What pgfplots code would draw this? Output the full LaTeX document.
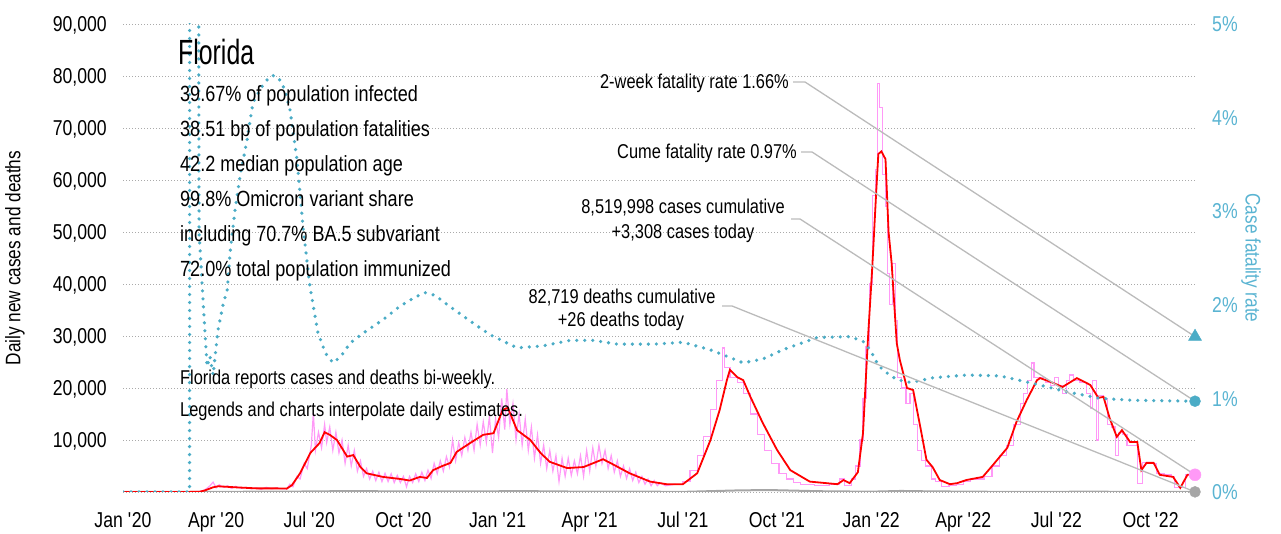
\documentclass[border=0pt]{standalone}
\usepackage{pgfplots}
\pgfplotsset{compat=1.18}
\usepackage{fontspec}
\setmainfont{Liberation Sans}[FakeStretch=0.82]
\newfontfamily\titlefont{Liberation Sans}[FakeStretch=0.71]
\definecolor{cfr}{HTML}{4BACC6}
\definecolor{cfrtxt}{HTML}{5AB4D2}
\definecolor{daily}{HTML}{FF99F7}
\definecolor{dgray}{HTML}{A6A6A6}
\definecolor{lead}{HTML}{BBBBBB}
\definecolor{gridc}{HTML}{AAAAAA}
\pgfplotsset{
  baseaxis/.style={at={(123pt,42pt)}, anchor=south west, width=1072pt, height=468pt,
    scale only axis, xmin=0, xmax=1047.4, axis line style={draw=none}, tick style={draw=none},
    scaled y ticks=false, scaled x ticks=false},
  hideall/.style={xtick=\empty, ytick=\empty, axis lines=none}
}
\begin{document}
\begin{tikzpicture}[x=1pt,y=1pt]
\useasboundingbox (0,0) rectangle (1281,534);
% ---------- cases axis ----------
\begin{axis}[baseaxis, ymin=0, ymax=90000,
  ymajorgrids, major grid style={gridc, line width=0.9pt, dash pattern=on 1pt off 2pt},
  ytick={0,10000,20000,30000,40000,50000,60000,70000,80000,90000},
  yticklabels={,{10,000},{20,000},{30,000},{40,000},{50,000},{60,000},{70,000},{80,000},{90,000}},
  yticklabel style={font=\fontsize{21.5}{24}\selectfont, inner sep=0pt, anchor=base east, xshift=-16pt, yshift=-7.7pt},
  xtick={0,91,182,274,366,456,547,639,731,821,912,1004},
  xticklabels={Jan \textquotesingle20,Apr \textquotesingle20,Jul \textquotesingle20,Oct \textquotesingle20,Jan \textquotesingle21,Apr \textquotesingle21,Jul \textquotesingle21,Oct \textquotesingle21,Jan \textquotesingle22,Apr \textquotesingle22,Jul \textquotesingle22,Oct \textquotesingle22},
  xticklabel style={font=\fontsize{21.5}{24}\selectfont, inner sep=0pt, anchor=base, yshift=-35.5pt},
]
% deaths
\addplot[dgray, line width=2pt] coordinates {
(0,0) (80,10) (120,50) (180,100) (220,180) (260,130) (330,100) (390,170) (450,70) (550,40)
(600,300) (630,380) (680,150) (730,60) (760,200) (790,120) (850,40) (950,50) (1000,40) (1047.4,26)};
% daily cases (noisy period)
\addplot[daily, line width=1.2pt] coordinates {
(0,0) (60,0) (75,100) (80,400) (85,1200) (88,1900) (91,800) (94,1400) (98,900) (102,1200) (106,700)
(110,1100) (115,700) (120,900) (125,600) (130,800) (135,500) (140,900) (145,600) (150,800) (155,600)
(160,600) (163,1500) (166,1000) (170,3000) (173,2500) (177,5500) (180,4500) (184,9000) (186,15200)
(188,8000) (191,11500) (194,8500) (197,13000) (199,9500) (202,12500) (205,8000) (208,11500) (211,7500)
(214,10000) (217,5500) (220,9000) (223,5000) (226,8000) (229,4000) (232,6000) (235,3000) (238,4500)
(241,2500) (244,4000) (247,2200) (250,3800) (253,2000) (256,3600) (259,2000) (262,3500) (265,1800)
(268,3200) (271,1800) (274,3000) (277,1000) (280,3000) (283,1800) (286,3500) (289,2000) (292,3800)
(295,2200) (298,4200) (301,2600) (304,5500) (307,3500) (310,6000) (313,4000) (316,6800) (319,4800)
(322,10000) (325,6000) (328,9500) (331,7000) (334,10500) (337,8000) (340,11500) (343,8000) (346,13000)
(349,9000) (352,13500) (355,9500) (358,14500) (361,7500) (364,14000) (367,10500) (370,18000) (373,12000)
(375,19800) (378,13000) (381,17000) (384,10000) (387,15000) (390,9000) (393,14000) (396,8000) (399,12500)
(402,6500) (405,11000) (408,5500) (411,9000) (414,4500) (417,8000) (420,4000) (423,7000) (426,2000)
(429,6500) (432,3000) (435,6500) (438,3200) (441,6000) (444,3500) (447,7000) (450,3000) (453,8000)
(456,4000) (459,8500) (462,5000) (465,9000) (468,5500) (471,8000) (474,4500) (477,7000) (480,3800)
(483,6000) (486,3000) (489,5000) (492,2600) (495,4500) (498,2200) (501,3800) (504,1800) (507,3000)
(510,1500) (513,2500) (516,1200) (519,2200) (522,1200) (525,1800) (530,1200) (540,1500)};
% daily cases (step period)
\addplot[daily, line width=1.2pt, const plot] coordinates {
(540,1500) (547,2000) (554,4200) (561,7000) (567,10600) (574,15800) (580,21500) (586,27700) (588,24000)
(593,22000) (600,21000) (606,19000) (613,15000) (620,11000) (627,8000) (634,5500) (641,3500) (648,2500)
(655,1800) (662,1500) (676,1300) (690,1500) (700,2500) (705,1300) (712,2500) (716,5000) (720,10000)
(723,18000) (726,28000) (729,40000) (732,57000) (735,62000) (737,78500) (739,74000) (742,61000)
(745,55000) (747,42000) (749,36000) (752,44000) (755,33000) (757,22000) (761,20000) (765,17000)
(769,19000) (772,13000) (776,8000) (780,6000) (784,5000) (790,2500) (794,2000) (800,1000) (807,1200)
(814,1500) (821,2000) (828,2500) (835,2500) (842,3000) (849,5000) (856,7000) (863,9000) (870,13000)
(877,17000) (880,19000) (884,21500) (888,24800) (890,22000) (896,22000) (901,21000) (906,20500)
(910,22000) (914,20500) (918,19000) (922,21500) (925,22500) (929,21500) (935,21000) (941,19000)
(945,16000) (947,21500) (951,10000) (953,18500) (958,18000) (962,13000) (966,12500) (970,7000)
(973,11500) (977,11000) (981,9000) (987,9000) (991,1700) (996,5600) (1002,5700) (1006,5500)
(1010,3500) (1017,3300) (1024,3000) (1027,800) (1033,800) (1038,3300) (1047.4,3300)};
% 7-day average
\addplot[red, line width=1.8pt] coordinates {
(0,0) (60,0) (75,50) (80,300) (88,900) (93,1100) (110,900) (130,700) (150,700) (160,650) (165,1300)
(173,3600) (183,7500) (192,9400) (197,11500) (202,11000) (209,10000) (215,8100) (219,6800) (225,7100)
(232,4800) (238,3600) (254,2900) (271,2500) (280,2200) (290,2900) (297,2700) (303,4200) (312,5000)
(320,5600) (326,7700) (339,9400) (352,11000) (362,11300) (371,15800) (376,16200) (385,11900) (398,10000)
(408,7500) (417,5800) (434,4600) (450,4800) (469,6300) (476,5600) (495,3600) (515,2000) (531,1500)
(547,1500) (561,3600) (574,10000) (583,15800) (590,21500) (593,23500) (600,22100) (606,21500)
(613,18300) (625,13300) (639,8100) (652,4200) (671,2000) (698,1500) (704,2300) (710,1700) (718,3800)
(723,11300) (728,30000) (732,43000) (736,58000) (738,65000) (741,65500) (745,64000) (748,50000)
(751,44000) (756,28600) (759,25400) (766,20000) (772,19600) (779,12500) (785,6200) (791,4800)
(798,2300) (808,1500) (815,1700) (824,2300) (840,2900) (850,5200) (864,8500) (873,13500) (883,17700)
(893,21500) (896,21900) (906,21200) (918,20200) (932,21900) (945,20600) (953,18100) (958,18300)
(964,14200) (971,10600) (976,11900) (984,9600) (991,9600) (995,4200) (1000,5600) (1007,5600)
(1013,3300) (1026,2900) (1033,800) (1040,3300) (1047.4,3308)};
\coordinate (mPink) at (axis cs:1047.4,3308);
\coordinate (mGray) at (axis cs:1047.4,26);
\end{axis}
% ---------- CFR axis ----------
\begin{axis}[baseaxis, ymin=0, ymax=5, xtick=\empty,
  ytick={0,1,2,3,4,5}, yticklabels={0\%,1\%,2\%,3\%,4\%,5\%}, yticklabel pos=right,
  yticklabel style={font=\fontsize{21.5}{24}\selectfont, text=cfrtxt, inner sep=0pt, anchor=base west, xshift=17pt, yshift=-7.7pt},
]
\addplot[cfr, line width=3.6pt, line cap=round, dash pattern=on 0pt off 8pt] coordinates {
(0,0) (65,0) (65.6,20) (72,20) (74.3,2.78) (78.2,2.05) (82.1,1.34) (85,1.45) (88,1.25) (92.8,1.73)
(98.7,2.05) (101.6,2.13) (105,2.6) (109.4,3.01) (114.3,3.37) (121.2,3.76) (127,4.16) (136.8,4.35)
(143.6,4.44) (148,4.45) (153.4,4.40) (158,4.3) (163.2,4.08) (170,3.55) (175.9,2.83) (182.7,2.19)
(190.5,1.70) (198,1.48) (205.2,1.38) (213,1.45) (221.8,1.59) (235,1.70) (254,1.84) (270,1.98)
(285,2.08) (295.1,2.13) (305,2.10) (319.5,1.98) (340,1.82) (358.6,1.68) (385,1.54) (410,1.56)
(436.7,1.62) (460,1.62) (482.7,1.58) (520,1.58) (547.1,1.60) (573.5,1.52) (590,1.45) (605.8,1.38)
(625,1.42) (644.8,1.52) (678.1,1.65) (710.3,1.66) (723,1.61) (729.9,1.52) (736.7,1.38) (742.6,1.30)
(756.2,1.20) (770,1.17) (791.4,1.22) (824.6,1.25) (856.9,1.24) (889.1,1.16) (922.3,1.07) (954.6,1.0)
(986.8,0.98) (1047.4,0.97)};
\coordinate (mTri) at (axis cs:1047.4,1.66);
\coordinate (mCirc) at (axis cs:1047.4,0.97);
\end{axis}
% ---------- leader lines ----------
\draw[lead, line width=1.3pt] (793,452) -- (805,452) -- (mTri);
\draw[lead, line width=1.3pt] (801,382) -- (812,382) -- (mCirc);
\draw[lead, line width=1.3pt] (791,315) -- (800,315) -- (mPink);
\draw[lead, line width=1.3pt] (722,228) -- (732,228) -- (mGray);
% ---------- markers ----------
\begin{axis}[baseaxis, hideall, ymin=0, ymax=90000]
\addplot[only marks, mark=*, mark size=6pt, mark options={fill=daily, draw=daily}] coordinates {(1047.4,3308)};
\addplot[only marks, mark=*, mark size=5.5pt, mark options={fill=dgray, draw=dgray}] coordinates {(1047.4,26)};
\end{axis}
\begin{axis}[baseaxis, hideall, ymin=0, ymax=5]
\addplot[only marks, mark=triangle*, mark size=7.5pt, mark options={fill=cfr, draw=cfr}] coordinates {(1047.4,1.66)};
\addplot[only marks, mark=*, mark size=5.5pt, mark options={fill=cfr, draw=cfr}] coordinates {(1047.4,0.97)};
\end{axis}
% ---------- texts ----------
\node[anchor=base west, inner sep=0pt, font=\titlefont\fontsize{35}{40}\selectfont] at (178,469) {Florida};
\begin{scope}[every node/.style={anchor=base west, inner sep=0pt, font=\fontsize{22}{26}\selectfont}]
\node at (180,432) {39.67\% of population infected};
\node at (180,397) {38.51 bp of population fatalities};
\node at (180,362) {42.2 median population age};
\node at (180,327) {99.8\% Omicron variant share};
\node at (180,292) {including 70.7\% BA.5 subvariant};
\node at (180,257) {72.0\% total population immunized};
\end{scope}
\begin{scope}[every node/.style={anchor=base west, inner sep=0pt, font=\fontsize{20}{24}\selectfont}]
\node at (180,149) {Florida reports cases and deaths bi-weekly.};
\node at (180,117) {Legends and charts interpolate daily estimates.};
\end{scope}
\begin{scope}[every node/.style={inner sep=0pt, font=\fontsize{20}{24}\selectfont}]
\node[anchor=base east] at (789,445) {2-week fatality rate 1.66\%};
\node[anchor=base east] at (797,375) {Cume fatality rate 0.97\%};
\node[anchor=base] at (683,320) {8,519,998 cases cumulative};
\node[anchor=base] at (683,295) {+3,308 cases today};
\node[anchor=base] at (622,230) {82,719 deaths cumulative};
\node[anchor=base] at (621,207) {+26 deaths today};
\end{scope}
\node[rotate=90, inner sep=0pt, font=\fontsize{21}{24}\selectfont] at (15,276) {Daily new cases and deaths};
\node[rotate=-90, inner sep=0pt, text=cfrtxt, font=\fontsize{21}{24}\selectfont] at (1251,276) {Case fatality rate};
\end{tikzpicture}
\end{document}
